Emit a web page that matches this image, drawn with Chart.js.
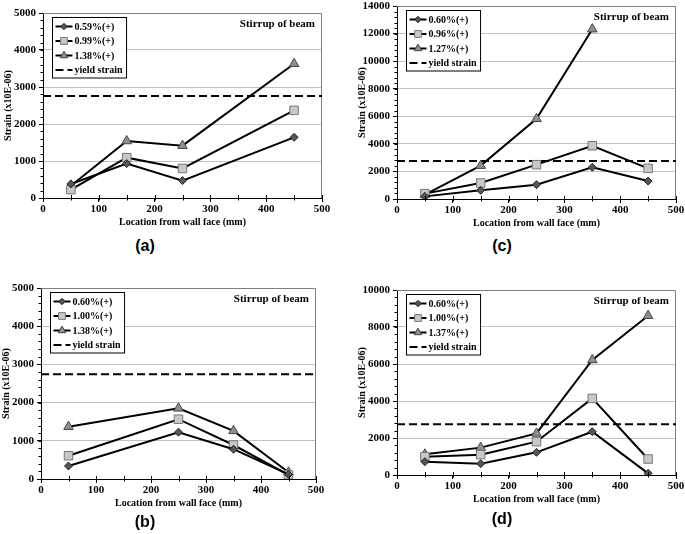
<!DOCTYPE html>
<html>
<head>
<meta charset="utf-8">
<script src="https://cdn.jsdelivr.net/npm/chart.js@4.4.0/dist/chart.umd.min.js"></script>
<style>
  html, body { margin: 0; padding: 0; background: #fff; overflow: hidden; }
  body { width: 685px; height: 534px; position: relative; }
  canvas { position: absolute; }
  .tag { position: absolute; font: bold 16px "Liberation Sans", Arial, sans-serif; transform: translate(-50%, -50%); }
</style>
</head>
<body>
<canvas id="chartA"></canvas>
<canvas id="chartB"></canvas>
<canvas id="chartC"></canvas>
<canvas id="chartD"></canvas>
<div class="tag" style="left:145px; top:246px;">(a)</div>
<div class="tag" style="left:145px; top:522px;">(b)</div>
<div class="tag" style="left:502px; top:246px;">(c)</div>
<div class="tag" style="left:502px; top:519px;">(d)</div>
<script>
// panel (a)
const locA = [50, 150, 250, 450];
const namesA = ['0.59%(+)', '0.99%(+)', '1.38%(+)'];
const a059 = [380, 930, 470, 1640];
const a099 = [225, 1090, 800, 2370];
const a138 = [330, 1540, 1415, 3630];
const yieldA = 2760;

// panel (b)
const locB = [50, 250, 350, 450];
const namesB = ['0.60%(+)', '1.00%(+)', '1.38%(+)'];
const b060 = [340, 1225, 780, 120];
const b100 = [610, 1565, 890, 105];
const b138 = [1370, 1850, 1260, 175];
const yieldB = 2745;

// panel (c)
const locC = [50, 150, 250, 350, 450];
const namesC = ['0.60%(+)', '0.96%(+)', '1.27%(+)'];
const c060 = [190, 630, 1040, 2300, 1300];
const c096 = [390, 1160, 2490, 3860, 2220];
const c127 = [310, 2420, 5820, 12320];
const yieldC = 2750;

// panel (d)
const locD = [50, 150, 250, 350, 450];
const namesD = ['0.60%(+)', '1.00%(+)', '1.37%(+)'];
const d060 = [720, 610, 1225, 2340, 90];
const d100 = [990, 1100, 1800, 4140, 865];
const d137 = [1120, 1480, 2250, 6220, 8610];
const yieldD = 2740;

const xTicks = [0, 100, 200, 300, 400, 500];

const SERIF = '"Liberation Serif", "Times New Roman", serif';

const markers = [
  { pointStyle: 'rectRot', pointRadius: 4, pointBackgroundColor: '#555', pointBorderColor: '#222' },
  { pointStyle: 'rect', pointRadius: 6, pointBackgroundColor: '#c8c8c8', pointBorderColor: '#777' },
  { pointStyle: 'triangle', pointRadius: 5.5, pointBackgroundColor: '#909090', pointBorderColor: '#444' }
];

function pts(xs, ys) {
  return ys.map((v, i) => ({ x: xs[i], y: v }));
}

// legend box, label and frame drawn inside the plot area
const insidePlugin = {
  id: 'inside',
  beforeDatasetsDraw(chart) {
    const { ctx, chartArea: ca } = chart;
    ctx.save();
    ctx.strokeStyle = '#808080';
    ctx.lineWidth = 1;
    ctx.beginPath();
    ctx.moveTo(ca.left, ca.top + 0.5);
    ctx.lineTo(ca.right - 0.5, ca.top + 0.5);
    ctx.lineTo(ca.right - 0.5, ca.bottom);
    ctx.stroke();
    ctx.restore();
  },
  afterDraw(chart) {
    const { ctx, chartArea: ca } = chart;
    const sc = chart.scales;
    ctx.save();
    // minor ticks
    const mo = chart.options.plugins.inside;
    ctx.strokeStyle = '#000';
    ctx.lineWidth = 1;
    ctx.beginPath();
    for (let v = 0; v <= sc.y.max; v += mo.yMinor) {
      const py = Math.round(sc.y.getPixelForValue(v)) + 0.5;
      ctx.moveTo(ca.left - 2.5, py);
      ctx.lineTo(ca.left, py);
    }
    for (let v = 0; v <= 500; v += 50) {
      const px = Math.round(sc.x.getPixelForValue(v)) + 0.5;
      ctx.moveTo(px, ca.bottom - 3);
      ctx.lineTo(px, ca.bottom + 2.5);
    }
    ctx.stroke();

    // legend
    const bx = Math.round(ca.left + 9) + 0.5, by = Math.round(ca.top + 4) + 0.5;
    ctx.font = 'bold 10px ' + SERIF;
    const dsets = chart.data.datasets;
    let tw = 0;
    dsets.forEach(d => { tw = Math.max(tw, ctx.measureText(d.label).width); });
    const bw = 22 + tw + 4, rowH = 14.5, bh = 9 + rowH * 3 + 8;
    ctx.fillStyle = '#fff';
    ctx.fillRect(bx, by, bw, bh);
    ctx.strokeStyle = '#000';
    ctx.strokeRect(bx, by, bw, bh);
    dsets.forEach((d, i) => {
      const cy = by + 9 + i * rowH;
      ctx.save();
      ctx.strokeStyle = d.borderColor;
      ctx.lineWidth = d.borderWidth;
      ctx.setLineDash(d.borderDash || []);
      ctx.beginPath();
      ctx.moveTo(bx + 3, cy);
      ctx.lineTo(bx + 20, cy);
      ctx.stroke();
      ctx.restore();
      if (d.pointRadius > 0) {
        ctx.fillStyle = d.pointBackgroundColor;
        ctx.strokeStyle = d.pointBorderColor;
        ctx.lineWidth = 1;
        Chart.helpers.drawPoint(ctx, { pointStyle: d.pointStyle, radius: d.pointRadius * 0.8, rotation: 0, borderWidth: 1 }, bx + 11.5, cy);
      }
      ctx.fillStyle = '#000';
      ctx.textAlign = 'left';
      ctx.textBaseline = 'middle';
      ctx.fillText(d.label, bx + 22, cy + 0.5);
    });

    ctx.font = 'bold 11px ' + SERIF;
    ctx.textAlign = 'right';
    ctx.textBaseline = 'middle';
    ctx.fillStyle = '#000';
    ctx.fillText('Stirrup of beam', ca.right - 7, ca.top + 11);
    ctx.restore();
  }
};

function makePanel(id, area, names, xs, series, yieldVal, yMax, yStep, yMinor) {
  const canvas = document.getElementById(id);
  const cl = area.left - 43, ct = area.top - 14;
  const w = area.right - cl + 24, h = area.bottom - ct + 38;
  canvas.width = w; canvas.height = h;
  canvas.style.left = cl + 'px';
  canvas.style.top = ct + 'px';
  canvas.style.width = w + 'px';
  canvas.style.height = h + 'px';

  const datasets = series.map((s, i) => Object.assign({
    label: names[i],
    data: pts(xs, s),
    borderColor: '#000',
    borderWidth: 2,
    pointBorderWidth: 1,
    tension: 0
  }, markers[i]));
  datasets.push({
    label: 'yield strain',
    data: [{ x: 0, y: yieldVal }, { x: 500, y: yieldVal }],
    borderColor: '#000',
    borderWidth: 2,
    borderDash: [8, 4],
    pointRadius: 0
  });

  new Chart(canvas, {
    type: 'line',
    data: { datasets: datasets },
    options: {
      responsive: false,
      animation: false,
      layout: { padding: { top: 14, right: 24, left: 0, bottom: 8 } },
      plugins: {
        legend: { display: false },
        tooltip: { enabled: false },
        inside: { yMinor: yMinor }
      },
      scales: {
        x: {
          type: 'linear',
          min: 0, max: 500,
          afterBuildTicks: s => { s.ticks = xTicks.map(v => ({ value: v })); },
          afterFit: s => { s.height = 30; },
          grid: { drawOnChartArea: false, tickLength: 4, tickColor: '#000' },
          border: { color: '#000', width: 1 },
          ticks: { color: '#000', padding: 2, maxRotation: 0, font: { family: SERIF, size: 11, weight: 'bold', lineHeight: 1 } },
          title: { display: true, text: 'Location from wall face (mm)', color: '#000', padding: { top: 1, bottom: 0 }, font: { family: SERIF, size: 10, weight: 'bold' } }
        },
        y: {
          min: 0, max: yMax,
          ticks: { stepSize: yStep, color: '#000', padding: 3, callback: v => String(v), font: { family: SERIF, size: 11, weight: 'bold' } },
          afterFit: s => { s.width = 43; },
          grid: {
            tickLength: 4,
            tickColor: '#000',
            color: c => (c.tick && (c.tick.value === 0 || c.tick.value === yMax)) ? 'rgba(0,0,0,0)' : '#c0c0c0'
          },
          border: { color: '#000', width: 1 },
          title: { display: true, text: 'Strain (x10E-06)', color: '#000', padding: { top: 2, bottom: 2 }, font: { family: SERIF, size: 10, weight: 'bold' } }
        }
      }
    },
    plugins: [insidePlugin]
  });
}

makePanel('chartA', { left: 43, right: 322, top: 13, bottom: 198 }, namesA, locA, [a059, a099, a138], yieldA, 5000, 1000, 200);
makePanel('chartB', { left: 41, right: 316, top: 288, bottom: 479 }, namesB, locB, [b060, b100, b138], yieldB, 5000, 1000, 200);
makePanel('chartC', { left: 397, right: 676, top: 6, bottom: 199 }, namesC, locC, [c060, c096, c127], yieldC, 14000, 2000, 400);
makePanel('chartD', { left: 397, right: 676, top: 290, bottom: 475 }, namesD, locD, [d060, d100, d137], yieldD, 10000, 2000, 400);
</script>
</body>
</html>
